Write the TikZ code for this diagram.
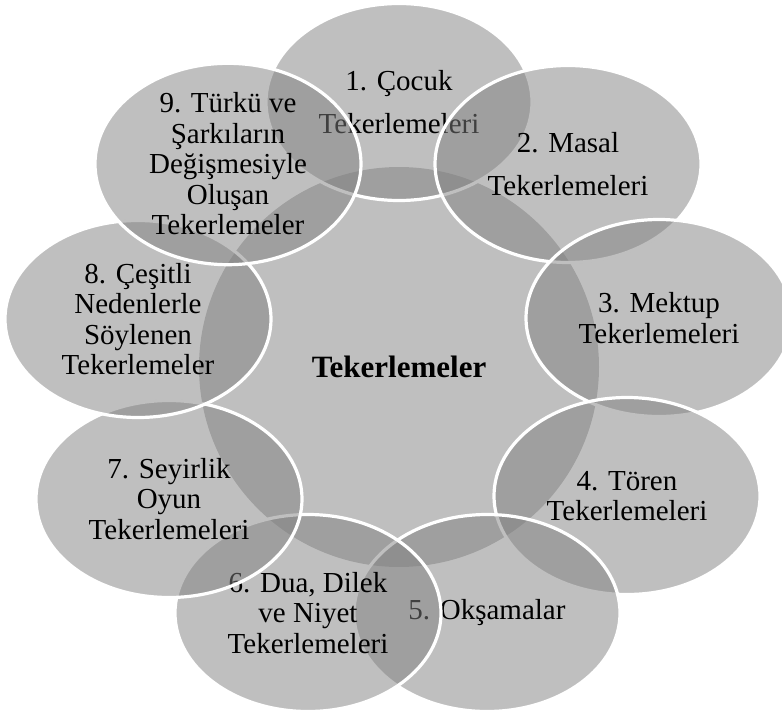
\documentclass[tikz,border=0pt]{standalone}
\usepackage{fontspec}
\setmainfont{Liberation Serif}
\usetikzlibrary{shapes.geometric}
\begin{document}
\begin{tikzpicture}[x=1pt,y=-1pt,
  petal/.style={ellipse, minimum width=266pt, minimum height=197pt, inner sep=0pt,
    fill=black!50, fill opacity=0.5, text opacity=1, draw=white, draw opacity=1,
    line width=3.2pt, align=center, text=black, font=\fontsize{29}{30.5}\selectfont},
  widepetal/.style={petal, font=\fontsize{29}{43}\selectfont},
  hub/.style={circle, minimum size=400pt, inner sep=0pt, fill=black!50,
    fill opacity=0.5, text opacity=1, text=black, font=\bfseries\fontsize{31}{33}\selectfont}]
\useasboundingbox (0,0) rectangle (782,720);
\clip (0,0) rectangle (782,720);
\node[hub] (hub) at (399,367) {Tekerlemeler};
\node[widepetal] (p1) at (399,102) {1. Çocuk\\Tekerlemeleri};
\node[widepetal] (p2) at (568,164) {2. Masal\\Tekerlemeleri};
\node[petal] (p3) at (659,318) {3. Mektup\\Tekerlemeleri};
\node[petal] (p4) at (627,496) {4. Tören\\Tekerlemeleri};
\node[petal] (p5) at (487,613) {5. Okşamalar};
\node[petal] (p6) at (308,613) {6. Dua, Dilek\\ve Niyet\\Tekerlemeleri};
\node[petal] (p7) at (169,499) {7. Seyirlik\\Oyun\\Tekerlemeleri};
\node[petal] (p8) at (138,319) {8. Çeşitli\\Nedenlerle\\Söylenen\\Tekerlemeler};
\node[petal] (p9) at (228,164) {9. Türkü ve\\Şarkıların\\Değişmesiyle\\Oluşan\\Tekerlemeler};
\end{tikzpicture}
\end{document}
